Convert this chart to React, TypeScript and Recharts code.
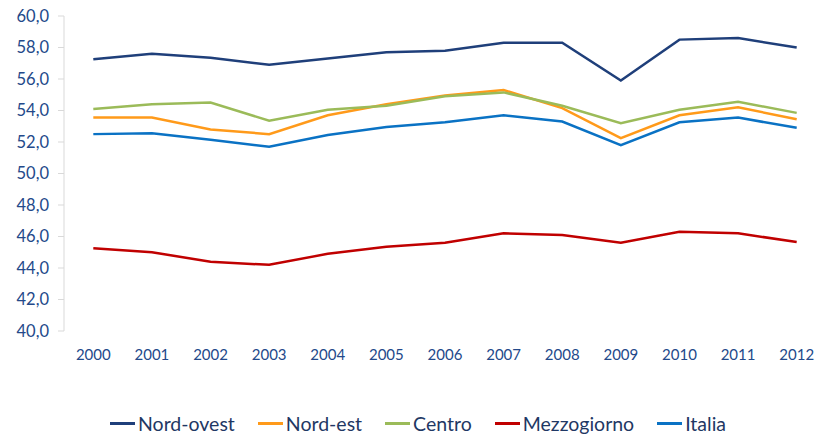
import React from 'react';
import { LineChart, Line, XAxis, YAxis, Legend } from 'recharts';

const years = ['2000', '2001', '2002', '2003', '2004', '2005', '2006', '2007', '2008', '2009', '2010', '2011', '2012'];

const nordOvest = [57.25, 57.6, 57.35, 56.9, 57.3, 57.7, 57.8, 58.3, 58.3, 55.9, 58.5, 58.6, 58.0];
const nordEst = [53.55, 53.55, 52.8, 52.5, 53.7, 54.4, 54.95, 55.3, 54.15, 52.25, 53.7, 54.2, 53.45];
const centro = [54.1, 54.4, 54.5, 53.35, 54.05, 54.3, 54.9, 55.15, 54.3, 53.2, 54.05, 54.55, 53.85];
const mezzogiorno = [45.25, 45.0, 44.4, 44.2, 44.9, 45.35, 45.6, 46.2, 46.1, 45.6, 46.3, 46.2, 45.65];
const italia = [52.5, 52.55, 52.15, 51.7, 52.45, 52.95, 53.25, 53.7, 53.3, 51.8, 53.25, 53.55, 52.9];

const yTicks = [40, 42, 44, 46, 48, 50, 52, 54, 56, 58, 60];

const series = [
  { key: 'nordOvest', name: 'Nord-ovest', color: '#1F3F7A', values: nordOvest },
  { key: 'nordEst', name: 'Nord-est', color: '#FF9A1A', values: nordEst },
  { key: 'centro', name: 'Centro', color: '#9BBB59', values: centro },
  { key: 'mezzogiorno', name: 'Mezzogiorno', color: '#C00000', values: mezzogiorno },
  { key: 'italia', name: 'Italia', color: '#0A72C4', values: italia },
];

const data = years.map((y, i) => {
  const row: Record<string, number | string> = { idx: i, year: y };
  series.forEach((s) => (row[s.key] = s.values[i]));
  return row;
});

const centerTicks = years.map((_, i) => i);
const edgeTicks = [...years.map((_, i) => i - 0.5), years.length - 0.5];

const textColor = '#23498A';
const font = 'Lato, "Open Sans", sans-serif';

const renderLegend = () => (
  <div style={{ display: 'flex', justifyContent: 'flex-start', paddingLeft: 110, height: 24, alignItems: 'center', fontFamily: font, fontSize: 19.5, color: '#1F3864', position: 'relative', top: -4 }}>
    {series.map((s) => (
      <div key={s.key} style={{ display: 'flex', alignItems: 'center', marginRight: 23 }}>
        <span style={{ display: 'inline-block', width: 25, height: 3, background: s.color, marginRight: 3 }} />
        <span>{s.name}</span>
      </div>
    ))}
  </div>
);

const App: React.FC = () => {
  return (
    <div style={{ position: 'absolute', left: 0, top: 0, width: 819, height: 439, overflow: 'hidden', background: '#fff' }}>
      <LineChart width={830} height={439} data={data} margin={{ top: 16, right: 4, left: 0, bottom: 0 }}>
        <XAxis
          xAxisId="edges"
          dataKey="idx"
          type="number"
          domain={[-0.5, years.length - 0.5]}
          ticks={edgeTicks}
          tickFormatter={() => ''}
          height={0}
          stroke="#D9D9D9"
          tickSize={6}
        />
        <XAxis
          xAxisId="years"
          dataKey="idx"
          type="number"
          domain={[-0.5, years.length - 0.5]}
          ticks={centerTicks}
          tickFormatter={(v: number) => years[v]}
          axisLine={false}
          tickLine={false}
          tickMargin={12}
          height={84}
          tick={{ fill: textColor, fontSize: 15, fontFamily: font }}
        />
        <YAxis
          domain={[40, 60]}
          ticks={yTicks}
          width={64}
          stroke="#D9D9D9"
          tickSize={6}
          tickMargin={9}
          tickFormatter={(v: number) => v.toFixed(1).replace('.', ',')}
          tick={{ fill: textColor, fontSize: 16.5, fontFamily: font }}
        />
        <Legend verticalAlign="bottom" content={renderLegend} />
        {series.map((s) => (
          <Line
            key={s.key}
            xAxisId="years"
            dataKey={s.key}
            name={s.name}
            stroke={s.color}
            strokeWidth={2.5}
            dot={false}
            isAnimationActive={false}
          />
        ))}
      </LineChart>
    </div>
  );
};

export default App;
